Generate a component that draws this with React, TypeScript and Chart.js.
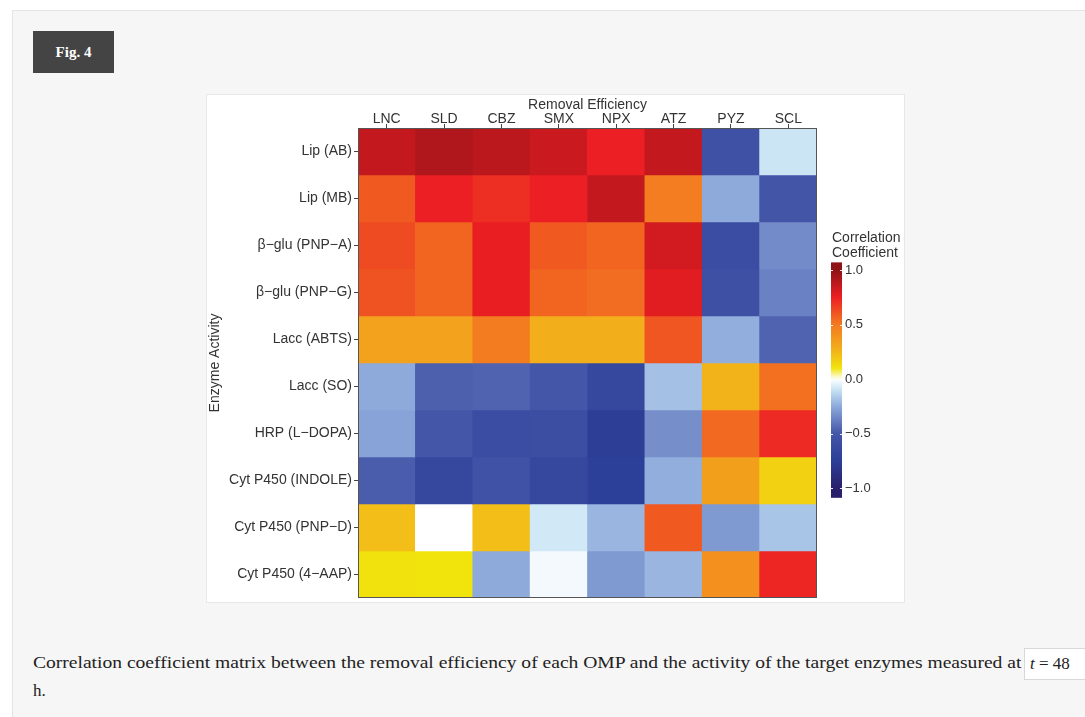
import React, { useEffect, useRef } from "react";
import { Chart, registerables } from "chart.js";

Chart.register(...registerables);

const colLabels = ["LNC", "SLD", "CBZ", "SMX", "NPX", "ATZ", "PYZ", "SCL"];
const rowLabels = [
  "Lip (AB)",
  "Lip (MB)",
  "β−glu (PNP−A)",
  "β−glu (PNP−G)",
  "Lacc (ABTS)",
  "Lacc (SO)",
  "HRP (L−DOPA)",
  "Cyt P450 (INDOLE)",
  "Cyt P450 (PNP−D)",
  "Cyt P450 (4−AAP)",
];

// correlation coefficients, one array per enzyme activity row (columns in colLabels order)
const lipAB = [0.86, 0.91, 0.88, 0.84, 0.75, 0.86, -0.55, -0.09];
const lipMB = [0.59, 0.75, 0.71, 0.75, 0.86, 0.49, -0.25, -0.51];
const bgluA = [0.63, 0.56, 0.76, 0.59, 0.56, 0.82, -0.6, -0.34];
const bgluG = [0.61, 0.56, 0.76, 0.56, 0.54, 0.78, -0.56, -0.37];
const laccABTS = [0.33, 0.33, 0.5, 0.28, 0.28, 0.6, -0.24, -0.46];
const laccSO = [-0.25, -0.47, -0.46, -0.5, -0.65, -0.19, 0.26, 0.53];
const hrpLDOPA = [-0.27, -0.5, -0.6, -0.59, -0.76, -0.33, 0.55, 0.72];
const cytIndole = [-0.48, -0.65, -0.54, -0.65, -0.74, -0.24, 0.34, 0.16];
const cytPNPD = [0.22, 0.0, 0.22, -0.08, -0.22, 0.59, -0.3, -0.18];
const cyt4AAP = [0.11, 0.1, -0.25, -0.02, -0.3, -0.22, 0.41, 0.73];

const matrix = [lipAB, lipMB, bgluA, bgluG, laccABTS, laccSO, hrpLDOPA, cytIndole, cytPNPD, cyt4AAP];

const legendTicks = [1.0, 0.5, 0.0, -0.5, -1.0];

const colorStops: [number, string][] = [
  [-1.0, "#2a1f6b"],
  [-0.75, "#2c3f98"],
  [-0.5, "#4356a8"],
  [-0.25, "#8eaadb"],
  [-0.1, "#c6e2f4"],
  [0.0, "#ffffff"],
  [0.1, "#f1e40c"],
  [0.25, "#f2b51a"],
  [0.5, "#f37b20"],
  [0.75, "#ec1f24"],
  [1.0, "#8e1217"],
];

function hexToRgb(h: string) {
  const n = parseInt(h.slice(1), 16);
  return [(n >> 16) & 255, (n >> 8) & 255, n & 255];
}

function colorFor(v: number) {
  if (v <= colorStops[0][0]) return colorStops[0][1];
  if (v >= colorStops[colorStops.length - 1][0]) return colorStops[colorStops.length - 1][1];
  for (let i = 0; i < colorStops.length - 1; i++) {
    const [a, ca] = colorStops[i];
    const [b, cb] = colorStops[i + 1];
    if (v >= a && v <= b) {
      const t = (v - a) / (b - a);
      const A = hexToRgb(ca);
      const B = hexToRgb(cb);
      const c = A.map((x, k) => Math.round(x + (B[k] - x) * t));
      return `rgb(${c[0]},${c[1]},${c[2]})`;
    }
  }
  return "#fff";
}

const FONT = "'Liberation Sans', Arial, sans-serif";
const TEXT = "#333333";

const legendPlugin = {
  id: "colorbar",
  afterDatasetsDraw(chart: any) {
    const { ctx, chartArea } = chart;
    ctx.save();
    ctx.strokeStyle = "#555";
    ctx.lineWidth = 1;
    ctx.strokeRect(
      Math.round(chartArea.left) + 0.5,
      Math.round(chartArea.top) + 0.5,
      Math.round(chartArea.right - chartArea.left) - 1,
      Math.round(chartArea.bottom - chartArea.top) - 1
    );
    ctx.restore();
  },
  afterDraw(chart: any) {
    const { ctx } = chart;
    const barX = 624;
    const barW = 11;
    const zeroY = 284;
    const unit = 109;
    const yOf = (v: number) => zeroY - v * unit;
    const vTop = 1.07;
    const vBot = -1.09;
    ctx.save();
    const g = ctx.createLinearGradient(0, yOf(vTop), 0, yOf(vBot));
    const N = 60;
    for (let i = 0; i <= N; i++) {
      const v = vTop + (vBot - vTop) * (i / N);
      g.addColorStop(i / N, colorFor(v));
    }
    ctx.fillStyle = g;
    ctx.fillRect(barX, yOf(vTop), barW, yOf(vBot) - yOf(vTop));
    ctx.strokeStyle = "rgba(255,255,255,0.9)";
    ctx.lineWidth = 1;
    ctx.fillStyle = TEXT;
    ctx.font = `13px ${FONT}`;
    ctx.textBaseline = "middle";
    ctx.textAlign = "left";
    legendTicks.forEach((v) => {
      const y = Math.round(yOf(v)) + 0.5;
      ctx.beginPath();
      ctx.moveTo(barX, y);
      ctx.lineTo(barX + 2, y);
      ctx.moveTo(barX + barW - 2, y);
      ctx.lineTo(barX + barW, y);
      ctx.stroke();
      const s = v.toFixed(1).replace("-", "−");
      ctx.fillText(s, barX + barW + 3, yOf(v));
    });
    ctx.font = `14px ${FONT}`;
    ctx.fillText("Correlation", barX + 1, 143);
    ctx.fillText("Coefficient", barX + 1, 158);
    ctx.restore();
  },
};

function HeatmapChart() {
  const ref = useRef<HTMLCanvasElement | null>(null);
  useEffect(() => {
    if (!ref.current) return;
    const datasets = matrix.map((row, i) => ({
      label: rowLabels[i],
      data: colLabels.map(() => 1),
      backgroundColor: row.map((v) => colorFor(v)),
      borderWidth: 0,
      barPercentage: 1,
      categoryPercentage: 1,
      stack: "s",
    }));
    const chart = new Chart(ref.current, {
      type: "bar",
      data: { labels: colLabels, datasets },
      plugins: [legendPlugin],
      options: {
        animation: false,
        responsive: false,
        devicePixelRatio: 1,
        layout: { padding: { left: 0, top: 0, right: 87, bottom: 4 } },
        plugins: { legend: { display: false }, tooltip: { enabled: false } },
        scales: {
          x: {
            type: "category",
            position: "top",
            stacked: true,
            offset: true,
            afterFit: (s: any) => {
              s.height = 33;
              s.paddingLeft = 0;
              s.paddingRight = 0;
            },
            grid: {
              offset: false,
              drawOnChartArea: false,
              drawTicks: true,
              tickLength: 4,
              color: "#444",
            },
            border: { display: false },
            ticks: { color: TEXT, font: { family: FONT, size: 14 }, padding: -4, maxRotation: 0 },
            title: {
              display: true,
              text: "Removal Efficiency",
              color: TEXT,
              font: { family: FONT, size: 14 },
              padding: { top: 2, bottom: 0 },
            },
          },
          y: {
            type: "linear",
            stacked: true,
            min: 0,
            max: rowLabels.length,
            reverse: true,
            afterFit: (s: any) => {
              s.width = 151;
              s.paddingTop = 0;
              s.paddingBottom = 0;
            },
            afterBuildTicks: (s: any) => {
              s.ticks = rowLabels.map((_, i) => ({ value: i + 0.5 }));
            },
            grid: {
              drawOnChartArea: false,
              drawTicks: true,
              tickLength: 4,
              color: "#444",
            },
            border: { display: false },
            ticks: {
              autoSkip: false,
              color: TEXT,
              font: { family: FONT, size: 14 },
              padding: 2,
              callback: (v: any) => rowLabels[Math.floor(Number(v))] ?? "",
            },
            title: {
              display: true,
              text: "Enzyme Activity",
              color: TEXT,
              font: { family: FONT, size: 14 },
              padding: { top: 0, bottom: 0 },
            },
          },
        },
      } as any,
    });
    return () => chart.destroy();
  }, []);
  return (
    <canvas
      ref={ref}
      width={697}
      height={507}
      style={{ position: "absolute", left: 207, top: 95, width: 697, height: 507 }}
    />
  );
}

export default function App() {
  return (
    <div
      style={{
        position: "absolute",
        left: 0,
        top: 0,
        width: 1085,
        height: 717,
        background: "#ffffff",
        overflow: "hidden",
      }}
    >
      <div
        style={{
          position: "absolute",
          left: 12,
          top: 10,
          width: 1100,
          height: 720,
          background: "#f6f6f6",
          border: "1px solid #e4e4e4",
        }}
      />
      <div
        style={{
          position: "absolute",
          left: 33,
          top: 31,
          width: 81,
          height: 42,
          background: "#444444",
          color: "#fff",
          fontFamily: "'Liberation Serif', serif",
          fontWeight: "bold",
          fontSize: 15,
          display: "flex",
          alignItems: "center",
          justifyContent: "center",
        }}
      >
        Fig. 4
      </div>
      <div
        style={{
          position: "absolute",
          left: 207,
          top: 95,
          width: 697,
          height: 507,
          background: "#fff",
          boxShadow: "0 0 0 1px #e8e8e8",
        }}
      />
      <HeatmapChart />
      <div
        style={{
          position: "absolute",
          left: 33,
          top: 651,
          fontFamily: "'Liberation Serif', serif",
          fontSize: 17,
          color: "#222",
          whiteSpace: "nowrap",
          transform: "scaleX(1.15)",
          transformOrigin: "left top",
          lineHeight: "24px",
        }}
      >
        Correlation coefficient matrix between the removal efficiency of each OMP and the activity of the target enzymes measured at
      </div>
      <div
        style={{
          position: "absolute",
          left: 1024,
          top: 648,
          width: 80,
          height: 30,
          background: "#fff",
          border: "1px solid #d8d8d8",
          fontFamily: "'Liberation Serif', serif",
          fontSize: 17,
          color: "#222",
          lineHeight: "30px",
          paddingLeft: 5,
          whiteSpace: "nowrap",
        }}
      >
        <i>t</i> = 48
      </div>
      <div
        style={{
          position: "absolute",
          left: 33,
          top: 679,
          fontFamily: "'Liberation Serif', serif",
          fontSize: 17,
          color: "#222",
          lineHeight: "24px",
        }}
      >
        h.
      </div>
    </div>
  );
}
